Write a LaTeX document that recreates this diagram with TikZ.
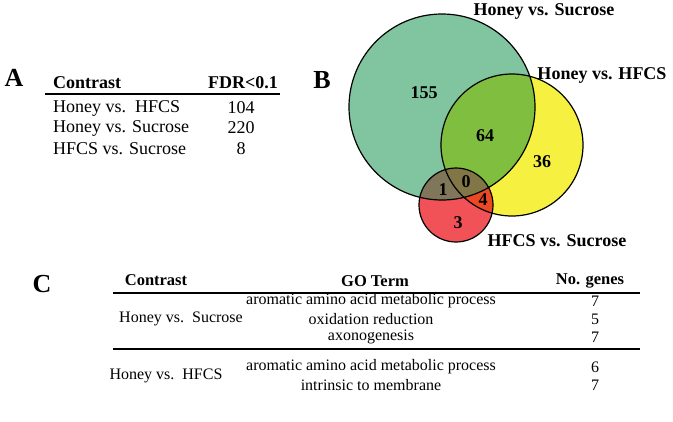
\documentclass[tikz,border=0pt]{standalone}
\usepackage{fontspec}
\setmainfont{Liberation Serif}
\begin{document}
\begin{tikzpicture}[x=1pt,y=-1pt,
 t/.style={font=\fontsize{18}{20}\selectfont,inner sep=0pt},
 tc/.style={font=\fontsize{16}{18}\selectfont,inner sep=0pt},
 bc/.style={font=\fontsize{16.5}{18}\selectfont\bfseries,inner sep=0pt},
 b/.style={font=\fontsize{18}{20}\selectfont\bfseries,inner sep=0pt},
 big/.style={font=\fontsize{26}{28}\selectfont\bfseries,inner sep=0pt},
 rule/.style={line width=1.3pt}]
\useasboundingbox (0,0) rectangle (673,421);
% Venn
\def\G{(442,107) circle (93)}
\def\Y{(512,145) circle (71)}
\def\R{(456,205) circle (37)}
\fill[color={rgb,255:red,128;green,196;blue,160}] \G;
\fill[color={rgb,255:red,246;green,240;blue,64}] \Y;
\fill[color={rgb,255:red,240;green,82;blue,88}] \R;
\begin{scope}\clip \G; \fill[color={rgb,255:red,128;green,190;blue,64}] \Y; \end{scope}
\begin{scope}\clip \G; \fill[color={rgb,255:red,128;green,118;blue,90}] \R; \end{scope}
\begin{scope}\clip \Y; \fill[color={rgb,255:red,236;green,72;blue,36}] \R; \end{scope}
\begin{scope}\clip \G; \clip \Y; \fill[color={rgb,255:red,128;green,118;blue,70}] \R; \end{scope}
\draw[line width=1.2pt] \G \Y \R;
\node[b] (ls) at (544,11) {Honey vs. Sucrose};
\node[b] (lh) at (602,75) {Honey vs. HFCS};
\node[b] (lf) at (557,241) {HFCS vs. Sucrose};
\node[b] (n1) at (424,93) {155};
\node[b] (n2) at (485,136) {64};
\node[b] (n3) at (542,162) {36};
\node[b] (n4) at (443,190) {1};
\node[b] (n5) at (466,182) {0};
\node[b] (n6) at (483,200) {4};
\node[b] (n7) at (458,223) {3};
\node[big] (B) at (322,80) {B};
% Table A
\node[big] (A) at (14,78) {A};
\node[b,anchor=west] (ah1) at (53,83) {Contrast};
\node[b] (ah2) at (243,83) {FDR<0.1};
\draw[rule] (45,94) -- (280,94);
\node[t,anchor=west] (a1) at (53,108) {Honey vs.\ \ HFCS};
\node[t,anchor=west] (a2) at (53,128) {Honey vs. Sucrose};
\node[t,anchor=west] (a3) at (53,149) {HFCS vs. Sucrose};
\node[t] (a1n) at (241,108) {104};
\node[t] (a2n) at (241,128) {220};
\node[t] (a3n) at (241,149) {8};
% Table C
\node[big] (C) at (42,284) {C};
\node[bc] (ch1) at (156,280) {Contrast};
\node[bc] (ch2) at (375,281) {GO Term};
\node[bc] (ch3) at (590,281) {No. genes};
\draw[rule] (113,293) -- (640,293);
\node[tc] (c1) at (181,319) {Honey vs.\ \ Sucrose};
\node[tc] (g1) at (371,301) {aromatic amino acid metabolic process};
\node[tc] (g2) at (371,319) {oxidation reduction};
\node[tc] (g3) at (371,337) {axonogenesis};
\node[tc] (k1) at (595,301) {7};
\node[tc] (k2) at (595,319) {5};
\node[tc] (k3) at (595,337) {7};
\draw[rule] (113,349) -- (640,349);
\node[tc] (c2) at (166,376) {Honey vs.\ \ HFCS};
\node[tc] (g4) at (371,367) {aromatic amino acid metabolic process};
\node[tc] (g5) at (371,385) {intrinsic to membrane};
\node[tc] (k4) at (595,367) {6};
\node[tc] (k5) at (595,385) {7};
\end{tikzpicture}
\end{document}
